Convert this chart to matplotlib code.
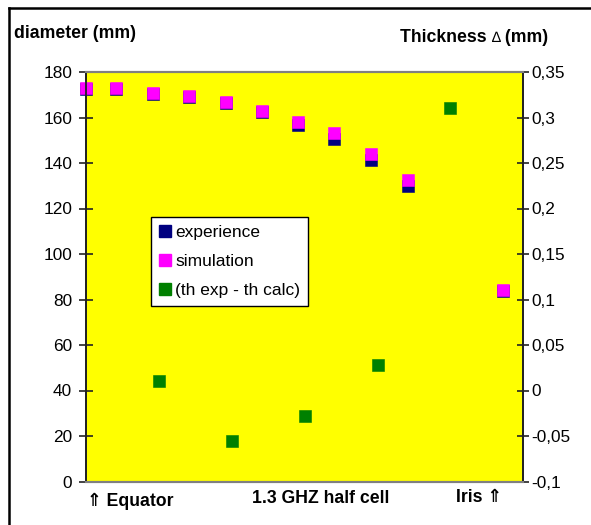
import matplotlib
matplotlib.use("Agg")
import matplotlib.pyplot as plt
from matplotlib.lines import Line2D

# ---- data ----
x_profile = [0, 0.82, 1.83, 2.82, 3.83, 4.84, 5.82, 6.81, 7.83, 8.84, 11.43]
experience = [172.4, 172.4, 170.4, 168.9, 166.3, 162.2, 156.9, 150.4, 141.2, 129.7, 83.7]
simulation = [172.8, 172.8, 170.9, 169.4, 166.8, 162.9, 158.2, 153.2, 144.0, 132.7, 84.0]
x_diff = [2, 4, 6, 8, 10]
thickness_diff = [0.01, -0.055, -0.028, 0.028, 0.31]

left_ticks = [0, 20, 40, 60, 80, 100, 120, 140, 160, 180]
right_ticks = [-0.1, -0.05, 0, 0.05, 0.1, 0.15, 0.2, 0.25, 0.3, 0.35]
series_names = ["experience", "simulation", "(th exp - th calc)"]

W, H = 591, 525
FONT = ["Liberation Sans", "DejaVu Sans"]
plt.rcParams["font.family"] = FONT

fig = plt.figure(figsize=(W / 100, H / 100), dpi=100)
fig.patch.set_facecolor("white")

# axes placement (pixels)
L, R, T, B = 86, 523.3, 72, 481.5
ax = fig.add_axes([L / W, 1 - B / H, (R - L) / W, (B - T) / H])
ax.set_facecolor("#FFFF00")
ax.set_xlim(0, 12)
ax.set_ylim(0, 180)
ax2 = ax.twinx()
ax2.set_ylim(-0.1, 0.35)

blue, magenta, green = "#000080", "#FF00FF", "#008000"
ms = 9.2
ax.plot(x_profile, experience, ls="none", marker="s", ms=ms, mfc=blue, mec=blue, mew=0.4, zorder=3, clip_on=False)
ax.plot(x_profile, simulation, ls="none", marker="s", ms=ms, mfc=magenta, mec=magenta, mew=0.4, zorder=4, clip_on=False)
ax2.plot(x_diff, thickness_diff, ls="none", marker="s", ms=ms, mfc=green, mec=green, mew=0.4, zorder=3)

# spines
for a in (ax, ax2):
    a.spines["top"].set_color("#808080")
    a.spines["bottom"].set_color("#808080")
    a.spines["top"].set_linewidth(1.5)
    a.spines["bottom"].set_linewidth(1.5)
    a.spines["left"].set_color("#222222")
    a.spines["right"].set_color("#222222")
    a.spines["left"].set_linewidth(1.3)
    a.spines["right"].set_linewidth(1.3)

ax.set_xticks([])
ax.set_yticks(left_ticks)
ax.set_yticklabels([str(v) for v in left_ticks])
ax.tick_params(axis="y", direction="inout", length=10, width=1.2, color="#222222",
               labelsize=12.4, pad=5)
ax2.set_yticks(right_ticks)
ax2.set_yticklabels([f"{round(v, 2):g}".replace(".", ",") for v in right_ticks])
ax2.tick_params(axis="y", direction="inout", length=8.5, width=1.2, color="#222222",
                labelsize=12.4, pad=1.5)

# legend
handles = [Line2D([], [], ls="none", marker="s", ms=ms, mfc=c, mec=c) for c in (blue, magenta, green)]
leg = ax2.legend(handles, series_names, loc="upper left",
                 bbox_to_anchor=((150.7 - L) / (R - L), (B - 216.7) / (B - T)),
                 borderaxespad=0, fontsize=12.5, frameon=True, fancybox=False,
                 handlelength=0.75, handletextpad=0.2, labelspacing=0.8,
                 borderpad=0.45, edgecolor="black", framealpha=1.0, facecolor="white")
leg.get_frame().set_linewidth(1.0)
leg.set_zorder(10)

def px(x, y):
    return x / W, 1 - y / H

# axis titles
fig.text(*px(14, 37.5), "diameter (mm)", fontsize=12.7, fontweight="bold", va="baseline", ha="left")
t1 = fig.text(*px(400, 41.7), "Thickness ", fontsize=12.7, fontweight="bold", va="baseline", ha="left")
fig.canvas.draw()
r = fig.canvas.get_renderer()
e1 = t1.get_window_extent(r)
t2 = fig.text(e1.x1 / W, 1 - 41.7 / H, "\u2206", fontsize=10.5, va="baseline", ha="left")
e2 = t2.get_window_extent(r)
fig.text(e2.x1 / W, 1 - 41.7 / H, " (mm)", fontsize=12.7, fontweight="bold", va="baseline", ha="left")

# bottom labels
fig.text(*px(87, 506.5), "\u21d1 Equator", fontsize=12.7, fontweight="bold", va="baseline", ha="left")
fig.text(*px(320.4, 503.3), "1.3 GHZ half cell", fontsize=12.7, fontweight="bold", va="baseline", ha="center")
fig.text(*px(502, 501.7), "Iris \u21d1", fontsize=12.7, fontweight="bold", va="baseline", ha="right")

# outer frame (top and left edges visible)
fig.add_artist(Line2D([9 / W, 1.0], [1 - 8 / H, 1 - 8 / H], color="black", lw=1.8, transform=fig.transFigure))
fig.add_artist(Line2D([9 / W, 9 / W], [0.0, 1 - 8 / H], color="black", lw=1.8, transform=fig.transFigure))

fig.savefig("out.png", dpi=100)
